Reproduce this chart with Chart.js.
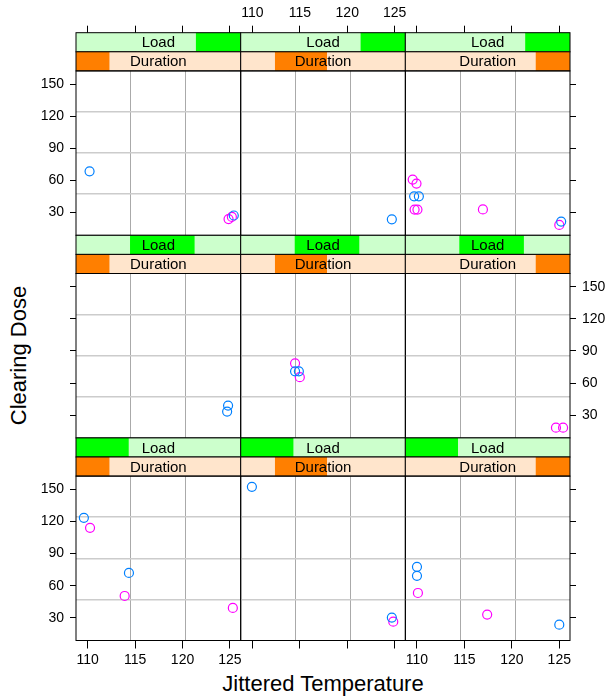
<!DOCTYPE html>
<html>
<head>
<meta charset="utf-8">
<script src="https://cdn.jsdelivr.net/npm/chart.js@4.4.1/dist/chart.umd.min.js"></script>
<style>
body { margin: 0; background: #fff; }
#wrap { position: relative; width: 608px; height: 700px; font-family: "Liberation Sans", Arial, sans-serif; color: #000; }
#wrap canvas { position: absolute; left: 0; top: 0; }
.xlab { position: absolute; left: 76px; width: 494px; top: 671px; line-height: 25px; text-align: center; font-size: 22px; }
.ylab { position: absolute; left: -82px; width: 200px; top: 343px; line-height: 25px; text-align: center; font-size: 22px; transform: rotate(-90deg); }
</style>
</head>
<body>
<div id="wrap">
	<div class="xlab">Jittered Temperature</div>
	<div class="ylab">Clearing Dose</div>
</div>
<script>
const xTicks = [110, 115, 120, 125];
const yTicks = [30, 60, 90, 120, 150];
const xRange = [108.77, 126.13];
const yRange = [8.8, 162.4];

// shingle intervals shown in the strips (fraction of strip width)
const loadIntervals = [[0.728, 1], [0.328, 0.72], [0, 0.32]];        // rows, top -> bottom
const durationIntervals = [[0, 0.203], [0.208, 0.524], [0.792, 1]];  // cols, left -> right

// points, [row top->bottom][col left->right]
const blueX = [
	[[110.2, 125.4], [124.7], [109.7, 110.2, 125.2]],
	[[124.8, 124.7], [114.5, 114.9], []],
	[[109.6, 114.35], [109.95, 124.7], [110.0, 110.0, 125.0]]
];
const blueY = [
	[[68.6, 27.3], [23.7], [45.2, 45.2, 21.6]],
	[[39.0, 33.4], [71.0, 71.0], []],
	[[123.4, 71.9], [152.4, 30.2], [77.6, 69.2, 23.6]]
];
const pinkX = [
	[[124.85, 125.2], [], [109.55, 109.95, 109.75, 110.05, 116.95, 125.0]],
	[[], [114.5, 115.0], [124.65, 125.4]],
	[[110.25, 113.9, 125.3], [124.85], [110.1, 117.4]]
];
const pinkY = [
	[[24.0, 26.0], [], [60.9, 57.1, 32.8, 32.8, 33.0, 18.5]],
	[[], [78.5, 65.5], [18.4, 18.4]],
	[[114.1, 50.4, 39.2], [26.4], [53.2, 33.0]]
];

const colLeft = [76, 240.7, 405.3];
const panelW = 164.7;
const stripTop = [32.7, 235.3, 437.9];
const stripH = 19.1;
const panelH = 164.4;

// room given to the axes that carry ticks
const leftAxisW = 70;
const rightAxisW = 38;
const topAxisH = 70;
const bottomAxisH = 45;

Chart.defaults.font.family = '"Liberation Sans", Arial, sans-serif';
Chart.defaults.color = '#000';

const stripPlugin = {
	id: 'strips',
	afterDraw(chart, args, opts) {
		const ctx = chart.ctx;
		const a = chart.chartArea;
		const w = a.right - a.left;
		ctx.save();
		const strips = [
			{ y: a.top - 2 * stripH, bg: '#ccffcc', fg: '#00ff00', r: opts.load, text: 'Load' },
			{ y: a.top - stripH, bg: '#ffe5cc', fg: '#ff7f00', r: opts.duration, text: 'Duration' }
		];
		strips.forEach(s => {
			ctx.fillStyle = s.bg;
			ctx.fillRect(a.left, s.y, w, stripH);
			ctx.fillStyle = s.fg;
			ctx.fillRect(a.left + s.r[0] * w, s.y, (s.r[1] - s.r[0]) * w, stripH);
			ctx.fillStyle = '#000';
			ctx.font = '15px "Liberation Sans", Arial, sans-serif';
			ctx.textAlign = 'center';
			ctx.textBaseline = 'middle';
			ctx.fillText(s.text, (a.left + a.right) / 2, s.y + stripH / 2 + 1);
			ctx.strokeStyle = '#000';
			ctx.lineWidth = 1;
			ctx.strokeRect(a.left, s.y, w, stripH);
		});
		ctx.strokeStyle = '#000';
		ctx.strokeRect(a.left, a.top, w, a.bottom - a.top);
		ctx.restore();
	}
};

const zeroW = s => { s.width = 0; };
const zeroH = s => { s.height = 0; };

const wrap = document.getElementById('wrap');

for (let r = 0; r < 3; r++) {
	for (let c = 0; c < 3; c++) {
		const canvas = document.createElement('canvas');
		canvas.width = 608;
		canvas.height = 700;
		wrap.appendChild(canvas);
		const top = stripTop[r] + 2 * stripH;

		const yPos = c === 2 ? 'right' : 'left';
		const yShown = c !== 1;
		const yW = !yShown ? 0 : (c === 0 ? leftAxisW : rightAxisW);
		const xPos = r === 0 ? 'top' : 'bottom';
		const xShown = r !== 1;
		const xH = !xShown ? 0 : (r === 0 ? topAxisH : bottomAxisH);

		new Chart(canvas, {
			type: 'scatter',
			data: {
				datasets: [
					{
						data: blueX[r][c].map((x, i) => ({ x: x, y: blueY[r][c][i] })),
						borderColor: '#0080ff'
					},
					{
						data: pinkX[r][c].map((x, i) => ({ x: x, y: pinkY[r][c][i] })),
						borderColor: '#ff00ff'
					}
				]
			},
			options: {
				responsive: false,
				animation: false,
				devicePixelRatio: 1,
				events: [],
				layout: {
					padding: {
						left: colLeft[c] - (yPos === 'left' ? yW : 0),
						right: 608 - colLeft[c] - panelW - (yPos === 'right' ? yW : 0),
						top: top - (xPos === 'top' ? xH : 0),
						bottom: 700 - top - panelH - (xPos === 'bottom' ? xH : 0)
					}
				},
				elements: {
					point: { radius: 4.5, hoverRadius: 4.5, borderWidth: 1.2, backgroundColor: 'rgba(0,0,0,0)' }
				},
				plugins: {
					legend: { display: false },
					tooltip: { enabled: false },
					strips: { load: loadIntervals[r], duration: durationIntervals[c] }
				},
				scales: {
					gx: {
						axis: 'x', type: 'linear', position: 'bottom',
						min: xRange[0], max: xRange[1],
						afterBuildTicks: s => { s.ticks = [1, 2].map(k => ({ value: xRange[0] + (xRange[1] - xRange[0]) * k / 3 })); },
						afterFit: zeroH,
						ticks: { display: false, autoSkip: false },
						grid: { color: '#aaaaaa', lineWidth: 1, drawTicks: false },
						border: { display: false }
					},
					gy: {
						axis: 'y', type: 'linear', position: 'left',
						min: yRange[0], max: yRange[1],
						afterBuildTicks: s => { s.ticks = [1, 2, 3].map(k => ({ value: yRange[0] + (yRange[1] - yRange[0]) * k / 4 })); },
						afterFit: zeroW,
						ticks: { display: false, autoSkip: false },
						grid: { color: '#cccccc', lineWidth: 1.5, drawTicks: false },
						border: { display: false }
					},
					x: {
						axis: 'x', type: 'linear',
						position: xPos,
						display: xShown,
						min: xRange[0], max: xRange[1],
						afterBuildTicks: s => { s.ticks = xTicks.map(v => ({ value: v })); },
						afterFit: s => { s.height = xH; },
						ticks: {
							display: (r === 0 && c === 1) || (r === 2 && c !== 1),
							autoSkip: false, maxRotation: 0,
							font: { size: 14 }, color: '#000',
							padding: r === 0 ? 4 : 3
						},
						grid: {
							drawOnChartArea: false, drawTicks: true,
							tickLength: r === 0 ? 7 + 2 * stripH : 8,
							tickColor: '#000', tickWidth: 1
						},
						border: { display: false }
					},
					y: {
						axis: 'y', type: 'linear',
						position: yPos,
						display: yShown,
						min: yRange[0], max: yRange[1],
						afterBuildTicks: s => { s.ticks = yTicks.map(v => ({ value: v })); },
						afterFit: s => { s.width = yW; },
						ticks: {
							display: (c === 0 && r !== 1) || (c === 2 && r === 1),
							autoSkip: false,
							font: { size: 14 }, color: '#000',
							padding: 6
						},
						grid: {
							drawOnChartArea: false, drawTicks: true,
							tickLength: 6, tickColor: '#000', tickWidth: 1
						},
						border: { display: false }
					}
				}
			},
			plugins: [stripPlugin]
		});
	}
}
</script>
</body>
</html>
